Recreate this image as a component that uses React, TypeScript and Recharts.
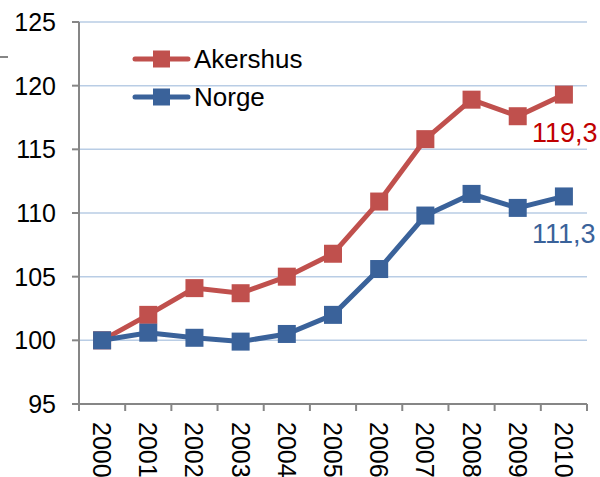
import { LineChart, Line, XAxis, YAxis, CartesianGrid, Legend, LabelList } from "recharts"

const YEARS = ["2000", "2001", "2002", "2003", "2004", "2005", "2006", "2007", "2008", "2009", "2010"]
const AKERSHUS = [100, 102.0, 104.1, 103.7, 105.0, 106.8, 110.9, 115.8, 118.9, 117.6, 119.3]
const NORGE = [100, 100.6, 100.2, 99.9, 100.5, 102.0, 105.6, 109.8, 111.5, 110.4, 111.3]
const Y_TICKS = [95, 100, 105, 110, 115, 120, 125]

const RED = "#C0504D"
const BLUE = "#3A629A"
const AXIS = "#868686"
const GRID = "#B9CDE5"
const FONT = "'Liberation Sans', Arial, sans-serif"

const W = 600
const H = 477
const M = { top: 22, right: 13, left: 0, bottom: 0 }
const Y_W = 79
const X_H = 73
const BAND = (W - M.left - M.right - Y_W) / YEARS.length

const data = YEARS.map((year, i) => ({ year, akershus: AKERSHUS[i], norge: NORGE[i] }))

function SquareDot(props: any) {
  const { cx, cy, fill } = props
  if (cx == null || cy == null) return null
  const s = 18
  return <rect x={cx - s / 2} y={cy - s / 2} width={s} height={s} fill={fill} />
}

function YearTick(props: any) {
  const { x, y, payload, index } = props
  const last = index === YEARS.length - 1
  return (
    <g>
      <line x1={x - BAND / 2} y1={y} x2={x - BAND / 2} y2={y + 7} stroke={AXIS} strokeWidth={2} />
      {last && <line x1={x + BAND / 2} y1={y} x2={x + BAND / 2} y2={y + 7} stroke={AXIS} strokeWidth={2} />}
      <text
        x={0}
        y={0}
        dy="0.36em"
        transform={`translate(${x},${y + 18}) rotate(90)`}
        textAnchor="start"
        fontSize={25}
        fontFamily={FONT}
        fill="#000"
      >
        {payload.value}
      </text>
    </g>
  )
}

function endLabel(color: string) {
  // eslint-disable-next-line @typescript-eslint/no-explicit-any
  return (props: any) => {
    const { x, y, index, value } = props
    if (index !== YEARS.length - 1) return null
    return (
      <text x={x - 32} y={y + 47} fontSize={27} fontFamily={FONT} fill={color}>
        {String(value).replace(".", ",")}
      </text>
    )
  }
}

function LegendBox() {
  const items = [
    { name: "Akershus", color: RED },
    { name: "Norge", color: BLUE },
  ]
  return (
    <svg width={190} height={80} style={{ display: "block" }}>
      {items.map((it, i) => {
        const cy = 14 + i * 38
        return (
          <g key={it.name}>
            <line x1={3} y1={cy} x2={56} y2={cy} stroke={it.color} strokeWidth={5} strokeLinecap="round" />
            <rect x={21} y={cy - 8.5} width={17} height={17} fill={it.color} />
            <text x={62} y={cy} dy="0.36em" fontSize={26} fontFamily={FONT} fill="#000">
              {it.name}
            </text>
          </g>
        )
      })}
    </svg>
  )
}

export default function App() {
  return (
    <div style={{ position: "absolute", left: 0, top: 0, width: W, height: H, background: "#fff" }}>
      {/* stray slide rule at the far left edge */}
      <div style={{ position: "absolute", left: 0, top: 56, width: 8, height: 2, background: AXIS }} />
      <LineChart width={W} height={H} data={data} margin={M}>
        <CartesianGrid horizontal vertical={false} stroke={GRID} strokeWidth={1.5} />
        <XAxis
          dataKey="year"
          height={X_H}
          interval={0}
          padding={{ left: BAND / 2, right: BAND / 2 }}
          tickSize={0}
          tickMargin={0}
          tickLine={false}
          axisLine={{ stroke: AXIS, strokeWidth: 2 }}
          tick={<YearTick />}
        />
        <YAxis
          width={Y_W}
          domain={[95, 125]}
          ticks={Y_TICKS}
          interval={0}
          tickSize={7}
          tickMargin={16}
          axisLine={{ stroke: AXIS, strokeWidth: 2 }}
          tickLine={{ stroke: AXIS, strokeWidth: 2 }}
          tick={{ fill: "#000", fontSize: 25, fontFamily: FONT }}
        />
        <Legend
          layout="horizontal"
          verticalAlign="middle"
          align="center"
          wrapperStyle={{ position: "absolute", left: 132, top: 45, width: 190, height: 80 }}
          content={() => <LegendBox />}
        />
        <Line
          dataKey="akershus"
          name="Akershus"
          stroke={RED}
          strokeWidth={5}
          fill={RED}
          dot={<SquareDot fill={RED} />}
          activeDot={false}
          isAnimationActive={false}
        >
          <LabelList dataKey="akershus" content={endLabel("#C00000")} />
        </Line>
        <Line
          dataKey="norge"
          name="Norge"
          stroke={BLUE}
          strokeWidth={5}
          fill={BLUE}
          dot={<SquareDot fill={BLUE} />}
          activeDot={false}
          isAnimationActive={false}
        >
          <LabelList dataKey="norge" content={endLabel(BLUE)} />
        </Line>
      </LineChart>
    </div>
  )
}
